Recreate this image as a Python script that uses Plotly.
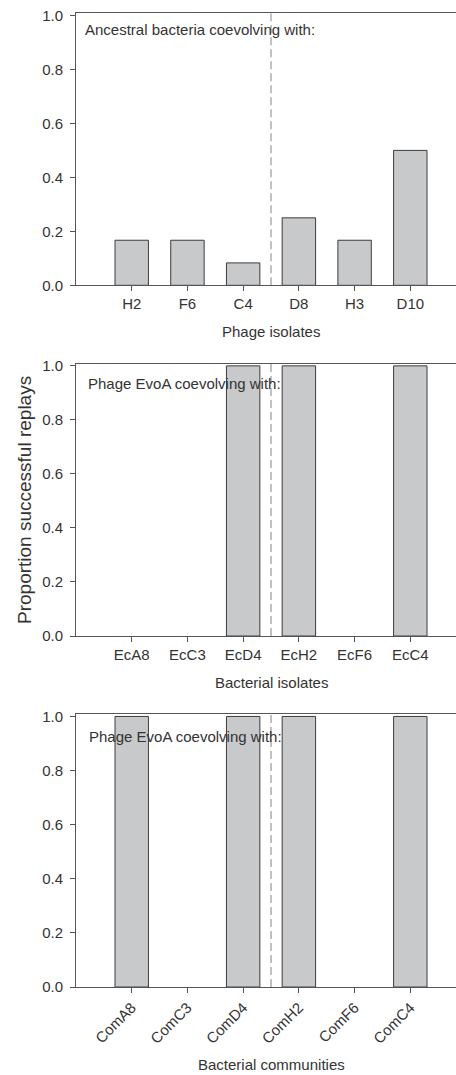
import plotly.graph_objects as go

# Data
phage_isolates = ["H2", "F6", "C4", "D8", "H3", "D10"]
phage_values = [0.167, 0.167, 0.083, 0.25, 0.167, 0.5]

bact_isolates = ["EcA8", "EcC3", "EcD4", "EcH2", "EcF6", "EcC4"]
bact_values = [0, 0, 1.0, 1.0, 0, 1.0]

bact_communities = ["ComA8", "ComC3", "ComD4", "ComH2", "ComF6", "ComC4"]
comm_values = [1.0, 0, 1.0, 1.0, 0, 1.0]

panel_texts = ["Ancestral bacteria coevolving with:",
               "Phage EvoA coevolving with:",
               "Phage EvoA coevolving with:"]
x_titles = ["Phage isolates", "Bacterial isolates", "Bacterial communities"]
y_title = "Proportion successful replays"

W, H = 456, 1075
FONT = "Liberation Sans, Arial, sans-serif"
TXT = "#333333"
AX = "#555555"
BAR_FILL = "#c8c9cb"
BAR_LINE = "#3c3c3c"

def py(px):
    return 1 - px / H

def pxx(px):
    return px / W

# pixel layout of each panel (top, bottom)
panels_px = [(13.3, 285.3), (363.7, 636.0), (714.3, 987.0)]
x_left_px = 76

fig = go.Figure()
datasets = [(phage_isolates, phage_values), (bact_isolates, bact_values), (bact_communities, comm_values)]

for i, (cats, vals) in enumerate(datasets):
    sfx = "" if i == 0 else str(i + 1)
    fig.add_trace(go.Bar(
        x=cats, y=vals, width=0.6,
        marker=dict(color=BAR_FILL,
                    line=dict(color=BAR_LINE, width=[1 if v > 0 else 0 for v in vals])),
        xaxis="x" + sfx, yaxis="y" + sfx, showlegend=False, hoverinfo="x+y",
    ))
    top, bot = panels_px[i]
    xaxis = dict(
        domain=[pxx(x_left_px), 1], range=[-1, 5.82], anchor="y" + sfx,
        type="category", categoryorder="array", categoryarray=cats,
        showline=True, linecolor=AX, linewidth=1, mirror=True,
        ticks="outside", ticklen=5, tickcolor=AX, tickwidth=1,
        showgrid=False, zeroline=False, automargin=False,
        tickfont=dict(family=FONT, size=15, color=TXT),
        fixedrange=True,
    )
    if i == 2:
        xaxis["tickangle"] = -45
    yaxis = dict(
        domain=[py(bot), py(top)], range=[0, 1.008], anchor="x" + sfx,
        tickvals=[0, 0.2, 0.4, 0.6, 0.8, 1.0], ticktext=["0.0", "0.2", "0.4", "0.6", "0.8", "1.0"],
        showline=True, linecolor=AX, linewidth=1, mirror=False,
        ticks="outside", ticklen=5, tickcolor=AX, tickwidth=1,
        showgrid=False, zeroline=False, automargin=False,
        tickfont=dict(family=FONT, size=15, color=TXT),
        ticklabelstandoff=4,
        fixedrange=True,
    )
    fig.update_layout(**{"xaxis" + sfx: xaxis, "yaxis" + sfx: yaxis})
    # dashed divider between 3rd and 4th category
    fig.add_shape(type="line", xref="x" + sfx, yref="y" + sfx,
                  x0=2.5, x1=2.5, y0=0, y1=1.008,
                  line=dict(color="#999999", width=1.2, dash="8px,4px"))

# panel texts
text_pos = [(83, 29), (86, 384), (87, 736)]
for t, (xp, yp) in zip(panel_texts, text_pos):
    fig.add_annotation(text=t, x=pxx(xp), y=py(yp), xref="paper", yref="paper",
                       xanchor="left", yanchor="middle", showarrow=False,
                       font=dict(family=FONT, size=15, color=TXT))

# x titles
for t, yp in zip(x_titles, [331.7, 682.7, 1064.5]):
    fig.add_annotation(text=t, x=pxx(271), y=py(yp), xref="paper", yref="paper",
                       xanchor="center", yanchor="middle", showarrow=False, borderpad=0,
                       font=dict(family=FONT, size=15, color=TXT))

# y title
fig.add_annotation(text=y_title, x=pxx(25), y=py(500), xref="paper", yref="paper",
                   xanchor="center", yanchor="middle", showarrow=False, textangle=-90,
                   font=dict(family=FONT, size=19, color=TXT))

fig.update_layout(
    width=W, height=H,
    margin=dict(l=0, r=0, t=0, b=0, pad=0, autoexpand=False),
    paper_bgcolor="white", plot_bgcolor="white",
    font=dict(family=FONT, color=TXT),
    bargap=0.4,
)

fig.write_html(
    "out.html", config={"displayModeBar": False},
    post_script=("document.body.style.margin='0';"
                 "document.body.style.overflow='hidden';"),
)
